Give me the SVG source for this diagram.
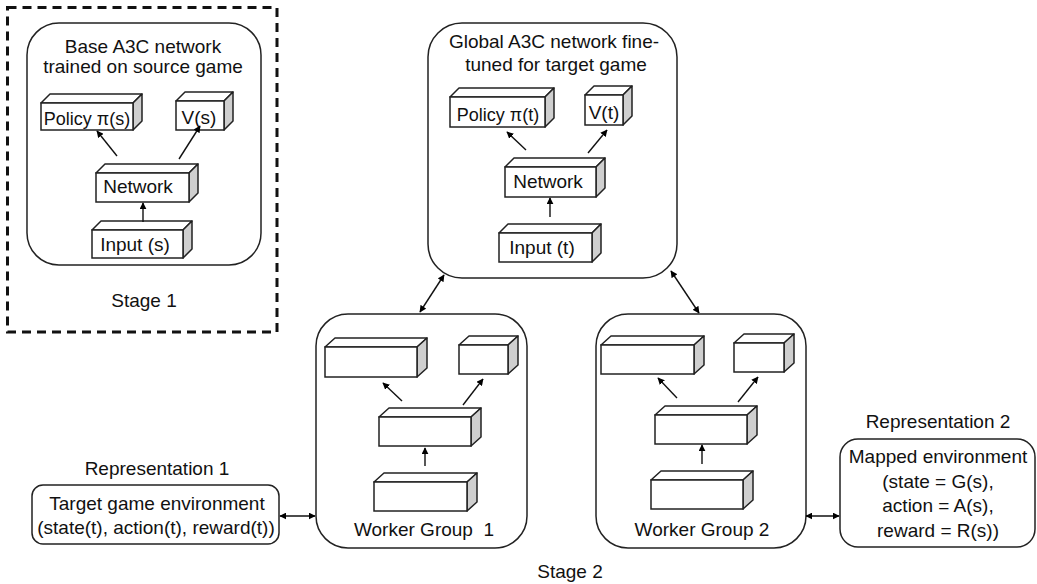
<svg xmlns="http://www.w3.org/2000/svg" width="1037" height="584" viewBox="0 0 1037 584">
<defs>
<marker id="ah" viewBox="0 0 10 10" refX="9" refY="5" markerWidth="7" markerHeight="7" markerUnits="userSpaceOnUse" orient="auto-start-reverse">
<path d="M0,0 L10,5 L0,10 z" fill="#000"/>
</marker>
<style>
text{font-family:"Liberation Sans",Arial,sans-serif;font-size:19px;fill:#111;text-anchor:middle}
.sm{font-size:18px}
.panel{fill:#fff;stroke:#222;stroke-width:1.5}
.front{fill:#fff;stroke:#222;stroke-width:1.5}
.top{fill:#fff;stroke:#222;stroke-width:1.5;stroke-linejoin:round}
.side{fill:#cfcfcf;stroke:#222;stroke-width:1.5;stroke-linejoin:round}
.conn{stroke:#111;stroke-width:1.4;fill:none}
.arr{marker-end:url(#ah)}
.bi{marker-start:url(#ah);marker-end:url(#ah)}
</style>
</defs>
<rect width="1037" height="584" fill="#fff"/>

<g id="stage1">
<rect x="7.5" y="7.5" width="269.5" height="324.5" fill="none" stroke="#111" stroke-width="3" stroke-dasharray="9 6"/>
<rect class="panel" x="27" y="23" width="234" height="242" rx="32"/>
<text x="143" y="53">Base A3C network</text>
<text x="143" y="73">trained on source game</text>
<text x="144" y="307">Stage 1</text>
</g>

<g id="s1-policy">
<polygon class="top" points="41,103 50,94 142,94 133,103"/>
<polygon class="side" points="133,103 142,94 142,121 133,130"/>
<rect class="front" x="41" y="103" width="92" height="27"/>
<text class="sm" x="87" y="125">Policy π(s)</text>
</g>
<g id="s1-value">
<polygon class="top" points="176,101 185,92 233,92 224,101"/>
<polygon class="side" points="224,101 233,92 233,121 224,130"/>
<rect class="front" x="176" y="101" width="48" height="29"/>
<text x="199" y="124">V(s)</text>
</g>
<g id="s1-network">
<polygon class="top" points="96,173 105,164 198,164 189,173"/>
<polygon class="side" points="189,173 198,164 198,193 189,202"/>
<rect class="front" x="96" y="173" width="93" height="29"/>
<text x="138" y="193">Network</text>
</g>
<g id="s1-input">
<polygon class="top" points="92,230 101,221 192,221 183,230"/>
<polygon class="side" points="183,230 192,221 192,249 183,258"/>
<rect class="front" x="92" y="230" width="91" height="28"/>
<text x="135" y="251">Input (s)</text>
</g>

<g id="global">
<rect class="panel" x="428" y="23" width="249" height="255" rx="34"/>
<text x="554" y="48">Global A3C network fine-</text>
<text x="556" y="71">tuned for target game</text>
</g>
<g id="g-policy">
<polygon class="top" points="450,97 459,88 554,88 545,97"/>
<polygon class="side" points="545,97 554,88 554,118 545,127"/>
<rect class="front" x="450" y="97" width="95" height="30"/>
<text class="sm" x="498" y="121">Policy π(t)</text>
</g>
<g id="g-value">
<polygon class="top" points="585,95 594,86 632,86 623,95"/>
<polygon class="side" points="623,95 632,86 632,116 623,125"/>
<rect class="front" x="585" y="95" width="38" height="30"/>
<text x="604" y="119">V(t)</text>
</g>
<g id="g-network">
<polygon class="top" points="505,167 514,158 605,158 596,167"/>
<polygon class="side" points="596,167 605,158 605,188 596,197"/>
<rect class="front" x="505" y="167" width="91" height="30"/>
<text x="548" y="188">Network</text>
</g>
<g id="g-input">
<polygon class="top" points="499,233 508,224 601,224 592,233"/>
<polygon class="side" points="592,233 601,224 601,253 592,262"/>
<rect class="front" x="499" y="233" width="93" height="29"/>
<text x="542" y="254">Input (t)</text>
</g>

<g id="worker1">
<rect class="panel" x="316" y="314" width="211" height="234" rx="32"/>
<text x="424" y="536" xml:space="preserve">Worker Group  1</text>
</g>
<g id="w1-policy">
<polygon class="top" points="325,347 335,338 427,338 417,347"/>
<polygon class="side" points="417,347 427,338 427,368 417,377"/>
<rect class="front" x="325" y="347" width="92" height="30"/>
</g>
<g id="w1-value">
<polygon class="top" points="459,345 469,336 518,336 508,345"/>
<polygon class="side" points="508,345 518,336 518,365 508,374"/>
<rect class="front" x="459" y="345" width="49" height="29"/>
</g>
<g id="w1-network">
<polygon class="top" points="379,417 389,408 481,408 471,417"/>
<polygon class="side" points="471,417 481,408 481,437 471,446"/>
<rect class="front" x="379" y="417" width="92" height="29"/>
</g>
<g id="w1-input">
<polygon class="top" points="374,482 384,473 477,473 467,482"/>
<polygon class="side" points="467,482 477,473 477,502 467,511"/>
<rect class="front" x="374" y="482" width="93" height="29"/>
</g>

<g id="worker2">
<rect class="panel" x="596" y="314" width="210" height="234" rx="32"/>
<text x="702" y="536">Worker Group 2</text>
</g>
<g id="w2-policy">
<polygon class="top" points="601,345 611,336 704,336 694,345"/>
<polygon class="side" points="694,345 704,336 704,365 694,374"/>
<rect class="front" x="601" y="345" width="93" height="29"/>
</g>
<g id="w2-value">
<polygon class="top" points="734,343 744,334 794,334 784,343"/>
<polygon class="side" points="784,343 794,334 794,363 784,372"/>
<rect class="front" x="734" y="343" width="50" height="29"/>
</g>
<g id="w2-network">
<polygon class="top" points="655,415 665,406 757,406 747,415"/>
<polygon class="side" points="747,415 757,406 757,435 747,444"/>
<rect class="front" x="655" y="415" width="92" height="29"/>
</g>
<g id="w2-input">
<polygon class="top" points="651,480 661,471 753,471 743,480"/>
<polygon class="side" points="743,480 753,471 753,500 743,509"/>
<rect class="front" x="651" y="480" width="92" height="29"/>
</g>

<g id="rep1">
<text x="157" y="475">Representation 1</text>
<rect class="panel" x="32" y="485" width="247" height="59" rx="11"/>
<text x="157" y="510">Target game environment</text>
<text x="156" y="534">(state(t), action(t), reward(t))</text>
</g>

<g id="rep2">
<text x="938" y="428">Representation 2</text>
<rect class="panel" x="840" y="439" width="195" height="108" rx="18"/>
<text x="938" y="463">Mapped environment</text>
<text x="938" y="488">(state = G(s),</text>
<text x="938" y="512">action = A(s),</text>
<text x="938" y="537">reward = R(s))</text>
</g>

<text x="570" y="578">Stage 2</text>

<g id="connectors">
<line class="conn arr" x1="117" y1="156" x2="97" y2="131"/>
<line class="conn arr" x1="179" y1="159" x2="200" y2="126"/>
<line class="conn arr" x1="143" y1="222" x2="143" y2="203"/>
<line class="conn arr" x1="526" y1="150" x2="507" y2="132"/>
<line class="conn arr" x1="588" y1="153" x2="607" y2="130"/>
<line class="conn arr" x1="550" y1="217" x2="550" y2="198"/>
<line class="conn arr" x1="402" y1="401" x2="383" y2="383"/>
<line class="conn arr" x1="463" y1="405" x2="483" y2="379"/>
<line class="conn arr" x1="425" y1="466" x2="425" y2="448"/>
<line class="conn arr" x1="677" y1="398" x2="658" y2="378"/>
<line class="conn arr" x1="738" y1="402" x2="758" y2="377"/>
<line class="conn arr" x1="702" y1="464" x2="702" y2="445"/>
<line class="conn bi" x1="420" y1="312" x2="444" y2="275"/>
<line class="conn bi" x1="671" y1="271" x2="699" y2="313"/>
<line class="conn bi" x1="280" y1="516" x2="315" y2="516"/>
<line class="conn bi" x1="806" y1="516" x2="839" y2="516"/>
</g>
</svg>
